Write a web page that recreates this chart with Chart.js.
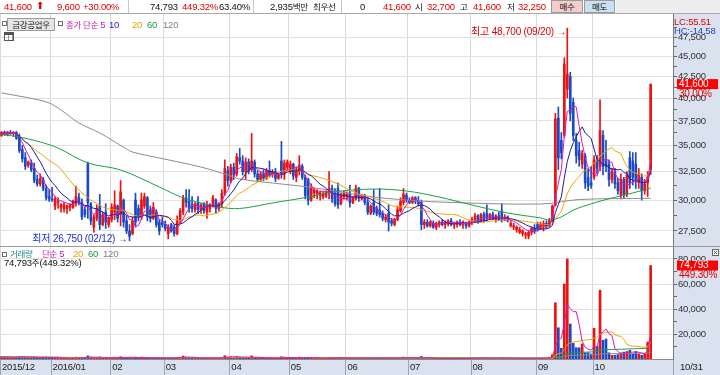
<!DOCTYPE html>
<html lang="ko">
<head>
<meta charset="utf-8">
<title>금강공업우</title>
<script src="https://cdn.jsdelivr.net/npm/chart.js@4.4.1/dist/chart.umd.min.js"></script>
<style>
  html, body { margin:0; padding:0; background:#fff; }
  #wrap { position:relative; width:720px; height:375px; overflow:hidden; font-family:"Liberation Sans","Noto Sans CJK KR",sans-serif; font-size:9.5px; letter-spacing:-0.2px; color:#111; }
  canvas { position:absolute; left:0; }
  #cPrice { top:14px; }
  #cVol { top:246px; }
  #top { position:absolute; left:0; top:0; width:720px; height:13px; border-bottom:1px solid #a9a9a9; background:#fff; }
  .t { position:absolute; white-space:nowrap; line-height:11px; z-index:2; }
  .k { font-family:"Noto Sans CJK KR",sans-serif; font-size:8.5px; letter-spacing:-0.3px; }
  .r { color:#e00000; }
  .sep { position:absolute; top:0; width:1px; height:13px; background:#c8c8c8; }
  .btn { position:absolute; top:0; height:11px; border:1px solid #9a9a9a; text-align:center; line-height:11px; }
  .sq { position:absolute; width:3px; height:3px; border:1px solid #6d6d6d; background:#fff; z-index:2; }
  #tbl { position:absolute; left:4px; top:32px; width:8px; height:7px; border:1px solid #555; z-index:2;
         background:linear-gradient(#555 0 2px, transparent 2px), repeating-linear-gradient(90deg, transparent 0 3px, #999 3px 4px); }
</style>
</head>
<body>
<div id="wrap">
  <div id="top">
    <span class="t r" style="left:4px;top:1px">41,600</span>
    <span class="t r" style="left:36px;top:0px;font-family:'DejaVu Sans';font-size:10px">⬆</span>
    <span class="t r" style="left:57px;top:1px">9,600</span>
    <span class="t r" style="left:83px;top:1px">+30.00%</span>
    <div class="sep" style="left:128px"></div>
    <span class="t" style="left:150px;top:1px">74,793</span>
    <span class="t r" style="left:182px;top:1px">449.32%</span>
    <span class="t" style="left:219px;top:1px">63.40%</span>
    <div class="sep" style="left:253px"></div>
    <span class="t" style="left:270px;top:1px">2,935<span class="k">백만</span></span>
    <span class="t k" style="left:313px;top:1px">최우선</span>
    <div class="sep" style="left:341px"></div>
    <span class="t" style="left:360px;top:1px">0</span>
    <span class="t r" style="left:383px;top:1px">41,600</span>
    <span class="t k" style="left:415px;top:1px">시</span>
    <span class="t r" style="left:427px;top:1px">32,700</span>
    <span class="t k" style="left:460px;top:1px">고</span>
    <span class="t r" style="left:473px;top:1px">41,600</span>
    <span class="t k" style="left:507px;top:1px">저</span>
    <span class="t r" style="left:518px;top:1px">32,250</span>
    <div class="btn k" style="left:551px;width:30px;background:#f5cccc">매수</div>
    <div class="btn k" style="left:584px;width:29px;background:#cddff5">매도</div>
    <div style="position:absolute;left:616px;top:0;width:104px;height:13px;background:#ededed"></div>
  </div>

  <canvas id="cPrice" width="720" height="232"></canvas>
  <canvas id="cVol" width="720" height="129"></canvas>

  <div class="sq" style="left:2px;top:21px"></div>
  <span class="t k" style="left:7px;top:18px;width:46px;height:11px;border:1px solid #9a9a9a;background:#e6e6e6;text-align:center">금강공업우</span>
  <div class="sq" style="left:58px;top:21px"></div>
  <span class="t k" style="left:66px;top:19px;color:#d11ab0">종가 단순 <span style="font-family:'Liberation Sans';font-size:9.5px">5</span></span>
  <span class="t" style="left:109px;top:19px;color:#2424c8">10</span>
  <span class="t" style="left:132px;top:19px;color:#eaa000">20</span>
  <span class="t" style="left:147px;top:19px;color:#139a3c">60</span>
  <span class="t" style="left:163px;top:19px;color:#808080">120</span>
  <div id="tbl"></div>
  <span class="t" style="left:674px;top:16px;color:#e00000">LC:55.51</span>
  <span class="t" style="left:674px;top:25px;color:#2345c0">HC:-14.58</span>

  <div class="sq" style="left:2px;top:252px"></div>
  <span class="t k" style="left:10px;top:248px;color:#17898c">거래량</span>
  <span class="t k" style="left:42px;top:248px;color:#d11ab0">단순 <span style="font-family:'Liberation Sans';font-size:9.5px">5</span></span>
  <span class="t" style="left:73px;top:248px;color:#eaa000">20</span>
  <span class="t" style="left:88px;top:248px;color:#139a3c">60</span>
  <span class="t" style="left:103px;top:248px;color:#808080">120</span>
  <span class="t" style="left:4px;top:257px">74,793<span class="k">주</span>(449.32%)</span>
</div>

<script>
// daily candles [open, high, low, close, volume], one list per month
const dec15 = [
  [36000,36400,35900,36300,1800],[36300,36450,36000,36100,1500],[36100,36400,35950,36350,1600],
  [36300,36500,36100,36200,1200],[36200,36400,35900,36300,1300],[36300,36400,35600,35700,1500],
  [35800,36150,34300,34500,2000],[34600,35000,33400,33700,1800],[33800,34300,32700,33000,1500],
  [33100,33500,32900,33400,900],[33300,33600,32500,32700,1100],[32800,33300,31500,31700,1600],
  [31800,32200,31200,31400,1200],[31400,32300,31200,31900,900],[31800,32000,30800,31000,1300],
  [31000,31300,30000,30200,1500],[30300,30900,29900,30100,1100]
];
const jan16 = [
  [30100,31100,29900,30000,1000],[29500,30300,29200,30100,900],[29800,30200,29300,29900,800],
  [29400,29700,29000,29600,700],[29300,29800,29000,29600,800],[29300,29600,28900,29500,700],
  [29400,29700,29100,29600,600],[29400,30000,29300,29800,700],[29700,31200,29500,30300,1500],
  [30200,30600,29600,29800,900],[29800,30100,28400,28600,1200],[29200,29400,28600,28800,800],
  [33200,33400,28500,29800,2500],[29700,29800,28000,28300,1500],[27800,28800,27400,28600,1200],
  [28500,29600,28300,29300,1000],[29500,30500,27600,28000,1500],[28000,29000,27900,28800,900],
  [29000,29700,27700,28200,1100],[28000,28600,27800,28500,800]
];
const feb16 = [
  [28400,29700,28200,29400,1000],[29000,30800,28400,29600,1400],[29500,29600,28200,28500,900],
  [28800,31700,27900,30700,1800],[30000,30100,27800,28200,1300],[28300,28700,27300,27500,1100],
  [27500,28000,26750,27100,1400],[27300,28600,27200,28300,1000],[30000,30600,27800,28200,1500],
  [29300,29600,28300,28600,900],[28600,30600,28400,30000,1400],[29500,30600,29300,30300,1000],
  [30200,30300,28300,28600,1000],[29200,29500,28200,28500,900],[28500,29800,28400,29400,800],
  [29000,29200,27800,28000,900],[28200,28400,27200,27500,1000],[28200,28600,27800,28000,700]
];
const mar16 = [
  [28000,28300,27500,27700,800],[27300,28000,26900,27800,1000],[28000,28100,27400,27500,700],
  [27800,28000,27100,27300,900],[27300,28700,27200,28300,1100],[28300,29300,28100,29100,1300],
  [29000,30400,28800,30100,2400],[30200,30900,29400,29800,1500],[29900,30900,29000,29300,1200],
  [29600,30300,29000,29300,900],[29200,29800,29000,29700,800],[29800,30300,28900,29200,1000],
  [29200,29700,28900,29600,700],[29700,29800,28900,29100,800],[29000,29900,28500,29600,900],
  [29300,29700,29000,29600,600],[29500,30400,29400,30200,1100],[30000,30100,28900,29300,800],
  [29300,29800,29100,29700,700],[29700,30900,29400,30600,1300],[30600,33600,30400,32800,2600],
  [32600,33000,31200,31700,1500]
];
const apr16 = [
  [31700,33200,31500,32900,1800],[32900,33300,31800,32200,1300],[32300,34200,32100,33900,2000],
  [33800,34700,33200,33500,1500],[33500,34000,32200,32500,1200],[32500,33800,31800,33400,1400],
  [33400,33700,32300,32600,1000],[32700,36200,32500,33500,2500],[33400,33600,32000,32300,1200],
  [32300,32600,31600,31800,900],[31800,32500,31600,32300,800],[32300,32700,31700,31900,700],
  [31900,32800,31800,32600,900],[32600,33500,32000,32200,1100],[32200,32700,32000,32500,600],
  [32500,32800,31600,31900,800],[31900,32400,31800,32200,600],[33500,35400,31900,32300,1800],
  [32300,33600,31800,33300,1500],[32900,33600,32600,33400,1000]
];
const may16 = [
  [32500,33500,32300,33200,1200],[33200,33300,31800,32100,900],[32000,32900,31600,32700,1000],
  [32500,34000,32200,33100,1500],[33000,33200,31800,32000,1000],[32000,32200,30100,30400,1400],
  [31800,31900,29600,30000,1200],[30000,31400,29900,31100,900],[30600,31000,30200,30900,700],
  [30500,30900,30100,30800,700],[30400,30800,30000,30600,600],[30300,30700,30100,30500,500],
  [30400,30800,30200,30700,600],[30600,32500,30100,31000,1300],[31000,31300,29800,30100,900],
  [30500,31000,29500,29700,1000],[31000,31500,29300,29600,1300],[29700,30600,29600,30400,800],
  [30300,30800,30100,30600,600]
];
const jun16 = [
  [30300,30700,30000,30500,700],[30600,31300,29400,29800,1000],[29800,30300,29700,30200,600],
  [30100,31300,30000,31000,1200],[31000,31100,29900,30200,800],[30100,30500,30000,30400,600],
  [30400,30500,29600,29800,700],[29800,30200,28800,29000,900],[28900,29600,28800,29500,700],
  [29800,30900,28800,29000,1100],[29300,29500,28700,28900,800],[29200,31000,28600,28800,1000],
  [28900,29100,28300,28500,800],[28400,28800,28200,28600,600],[28900,29600,27500,28200,1000],
  [28300,28500,27900,28100,700],[28000,28500,27900,28400,700],[28400,29500,28300,29200,1000],
  [29100,30200,29000,29900,1200],[29800,31000,29600,30500,1500],[30400,30600,29800,30000,900]
];
const jul16 = [
  [30000,30200,29700,29800,700],[29800,30300,29700,30200,700],[30200,30300,29700,29900,600],
  [29900,30300,29500,29700,900],[29800,30000,27600,28000,2000],[28000,28400,27700,28200,1000],
  [28200,28400,27800,27900,600],[27900,28300,27800,28200,500],[28100,28300,27700,27800,500],
  [27800,28200,27600,28100,500],[28000,28300,27800,28200,400],[28200,28400,27900,28000,400],
  [28000,28300,27700,28200,500],[28100,28400,27900,28300,400],[28300,28500,27900,28000,400],
  [28000,28200,27700,28100,400],[28000,28300,27800,28200,400],[28200,28400,27900,28000,500],
  [28000,28300,27700,28200,400],[28100,28200,27700,27900,500],[27900,28300,27800,28200,600]
];
const aug16 = [
  [28200,28600,28000,28400,700],[28400,28900,28200,28700,800],[28700,28800,28100,28300,600],
  [28300,28900,28200,28800,700],[28800,29000,28200,28400,600],[28900,29600,28300,28500,1200],
  [28500,28900,28400,28800,500],[28800,29000,28400,28500,500],[28400,28800,28200,28700,600],
  [28700,29000,28300,28400,500],[29100,29700,28200,28400,1300],[28400,28800,28300,28600,500],
  [28600,28700,28200,28300,500],[27900,28300,27800,28100,600],[27800,28100,27600,27900,500],
  [27600,27900,27400,27800,500],[27400,27800,27300,27600,500],[27300,27600,27100,27500,500],
  [27200,27400,26900,27300,600],[27100,27500,26900,27400,500],[27400,27800,27200,27700,500],
  [27700,28000,27300,27500,500]
];
const sep16 = [
  [28000,28200,27500,27700,600],[27700,28200,27600,28000,700],[27900,28300,27500,28100,800],
  [28100,28300,27700,27900,700],[27900,28500,27800,28300,1500],[28300,29600,28200,29500,3500],
  [29600,38300,29500,37700,45000],[37800,39000,32700,33800,25000],[35500,36300,33700,34300,8600],
  [36000,44800,35800,44000,60000],[41000,48700,40000,42800,80000],[42500,43000,37500,38300,28000],
  [39500,40000,35500,36000,12500],[35500,36200,33300,34000,9000],[34500,35300,33000,33600,9000],
  [33200,34500,32800,34200,12000],[34000,34200,31000,31500,5000],[32000,32800,30800,31200,5000],
  [31500,33000,31000,31300,4000]
];
const oct16 = [
  [32000,34000,31800,33600,24600],[33500,34000,32300,32800,10000],[33000,39800,32600,36500,55000],
  [36000,36500,32200,33000,15000],[33500,35500,32500,33000,16000],[33200,33600,31200,31800,5000],
  [31800,32800,31500,32500,3000],[32500,32800,31000,31400,3000],[31500,31900,30500,30800,3500],
  [30400,32300,30100,31800,5000],[31800,32000,30200,30500,5500],[30500,32500,30300,32200,6000],
  [33800,34400,31000,31500,7000],[33500,34300,31300,32000,4000],[33200,34300,31000,31800,6000],
  [31500,32800,31000,32300,4000],[32000,32300,30000,30800,3000],[30800,31800,30500,31400,4000],
  [31500,32500,30300,32000,13616],[32700,41600,32250,41600,74793]
];

const monthLabels = ['2015/12', '2016/01', '02', '03', '04', '05', '06', '07', '08', '09', '10'];
const lastDateLabel = '10/31';
const highDate = '09/20';
const lowDate = '02/12';

// longer averages: [day index, price]
const ma60Pts = [[0,36100],[6,35840],[13,35340],[19,34740],[29,33310],[40,32660],[53,31130],[61,30180],
  [67,29760],[73,29420],[80,29300],[91,29760],[103,30260],[111,30690],[125,30950],[136,30780],[147,30260],
  [158,29590],[170,28930],[181,28530],[184,28370],[188,28610],[192,29170],[199,29760],[205,30180],[212,30610],[218,31040]];
const ma120Pts = [[0,40570],[11,39890],[16,39440],[20,38670],[26,37280],[33,36250],[42,34650],[44,34350],
  [53,33780],[67,32930],[76,32200],[80,31840],[91,31480],[103,31130],[114,30690],[125,30260],[136,30010],
  [147,29840],[181,29670],[194,30050],[218,30150]];

const priceTicks = [27500,28750,30000,31250,32500,33750,35000,36250,37500,38750,40000,41250,42500,43750,45000,46250,47500,48750];
const volTicks = [10000,20000,30000,40000,50000,60000,70000,80000];

const FONT = '"Liberation Sans","Noto Sans CJK KR",sans-serif';
const RED = '#ee1111', BLUE = '#1a4ac8';
const C_MA5 = '#d81ab4', C_MA10 = '#1c1ca8', C_MA20 = '#f0a400', C_MA60 = '#18a048', C_MA120 = '#8c8c8c';
const PANEL = '#d9e2ee';
const SLOTS = 226;

const months = [dec15, jan16, feb16, mar16, apr16, may16, jun16, jul16, aug16, sep16, oct16];
const bars = months.flat();
const monthStart = [];
let acc = 0;
months.forEach(m => { monthStart.push(acc); acc += m.length; });

const closes = bars.map(d => d[3]);
const vols = bars.map(d => d[4]);
const colors = bars.map(d => d[3] >= d[0] ? RED : BLUE);

function sma(arr, n) {
  return arr.map((_, i) => {
    const from = Math.max(0, i - n + 1);
    let s = 0;
    for (let k = from; k <= i; k++) s += arr[k];
    return s / (i - from + 1);
  });
}
const fmt = v => Math.round(v).toLocaleString('en-US');
const pts = arr => arr.map((y, x) => ({ x, y }));

function lineSet(data, color, smooth) {
  return { type: 'line', data, borderColor: color, borderWidth: 1, pointRadius: 0, fill: false,
           tension: smooth ? 0.35 : 0, order: 0 };
}

function xAxis(labels) {
  return {
    type: 'linear', min: -0.5, max: SLOTS - 0.5, offset: false,
    afterBuildTicks: s => { s.ticks = monthStart.map(v => ({ value: v - 0.5 })); },
    grid: { color: '#dadada', drawTicks: false, offset: false },
    border: { display: labels, color: '#8a8a8a' },
    ticks: { display: labels, autoSkip: false, maxRotation: 0, align: 'start', labelOffset: 2, padding: 3,
             color: '#222', font: { size: 9.5, family: FONT }, callback: (v, i) => monthLabels[i] },
    afterFit: s => { s.height = labels ? 16 : 0; s.paddingLeft = 0; s.paddingRight = 0; }
  };
}

const last = bars.length - 1;
const hiIdx = bars.reduce((b, d, i) => d[1] > bars[b][1] ? i : b, 0);
const loIdx = bars.reduce((b, d, i) => d[2] < bars[b][2] ? i : b, 0);

const priceDeco = {
  id: 'priceDeco',
  beforeDraw(c) {
    const { ctx, chartArea: a } = c;
    ctx.save();
    ctx.fillStyle = PANEL;
    ctx.fillRect(a.right, 0, c.width - a.right, c.height);
    ctx.restore();
  },
  afterDraw(c) {
    const { ctx, chartArea: a } = c;
    const xs = c.scales.x, ys = c.scales.y;
    ctx.save();
    ctx.font = '10px ' + FONT;
    ctx.textBaseline = 'middle';
    ctx.textAlign = 'right';
    ctx.fillStyle = '#e00000';
    ctx.fillText('최고 ' + fmt(bars[hiIdx][1]) + ' (' + highDate + ') →', xs.getPixelForValue(hiIdx) - 1, ys.getPixelForValue(bars[hiIdx][1]) + 4);
    ctx.fillStyle = '#1a2fd0';
    ctx.fillText('최저 ' + fmt(bars[loIdx][2]) + ' (' + lowDate + ') →', xs.getPixelForValue(loIdx) - 2, ys.getPixelForValue(bars[loIdx][2]) - 2);

    const py = ys.getPixelForValue(closes[last]);
    const pct = (closes[last] - closes[last - 1]) / closes[last - 1] * 100;
    ctx.textAlign = 'left';
    ctx.fillStyle = '#ff0000';
    ctx.fillRect(a.right + 4, py - 5, c.width - a.right - 6, 10);
    ctx.fillStyle = '#fff';
    ctx.fillText(fmt(closes[last]), a.right + 6, py);
    ctx.fillStyle = '#e00000';
    ctx.fillText(pct.toFixed(2) + '%', a.right + 6, py + 10);
    ctx.restore();
  }
};

new Chart(document.getElementById('cPrice'), {
  type: 'bar',
  data: {
    datasets: [
      lineSet(pts(sma(closes, 5)), C_MA5),
      lineSet(pts(sma(closes, 10)), C_MA10),
      lineSet(pts(sma(closes, 20)), C_MA20),
      lineSet(ma60Pts.map(p => ({ x: p[0], y: p[1] })), C_MA60, true),
      lineSet(ma120Pts.map(p => ({ x: p[0], y: p[1] })), C_MA120, true),
      { type: 'bar', data: bars.map((d, i) => ({ x: i, y: [d[2], d[1]] })), backgroundColor: colors,
        grouped: false, barPercentage: 1, categoryPercentage: 1, maxBarThickness: 1, order: 2 },
      { type: 'bar', data: bars.map((d, i) => ({ x: i, y: [Math.min(d[0], d[3]), Math.max(d[0], d[3])] })), backgroundColor: colors,
        grouped: false, barPercentage: 1, categoryPercentage: 1, maxBarThickness: 2, minBarLength: 1, order: 1 }
    ]
  },
  options: {
    responsive: false, animation: false, devicePixelRatio: 1, events: [],
    layout: { padding: 0 },
    plugins: { legend: { display: false }, tooltip: { enabled: false } },
    scales: {
      x: xAxis(false),
      y: {
        type: 'logarithmic', position: 'right', min: 26362, max: 50680,
        afterBuildTicks: s => { s.ticks = priceTicks.map(v => ({ value: v })); },
        grid: { color: ctx => ctx.tick && ctx.tick.value % 2500 === 0 ? '#e2e2e2' : 'rgba(0,0,0,0)', tickColor: '#666', tickLength: 4 },
        border: { color: '#7a7a7a' },
        ticks: { autoSkip: false, padding: 1, color: '#333', font: { size: 9.5, family: FONT },
                 callback: v => v % 2500 === 0 ? fmt(v) : '' },
        afterFit: s => { s.width = 47; s.paddingTop = 0; s.paddingBottom = 0; }
      }
    }
  },
  plugins: [priceDeco]
});

const volDeco = {
  id: 'volDeco',
  beforeDraw(c) {
    const { ctx, chartArea: a } = c;
    const xs = c.scales.x;
    ctx.save();
    ctx.fillStyle = PANEL;
    ctx.fillRect(a.right, 0, c.width - a.right, c.height);
    ctx.fillRect(0, a.bottom, c.width, c.height - a.bottom);
    ctx.strokeStyle = '#9aa4b4';
    ctx.lineWidth = 1;
    ctx.beginPath();
    monthStart.forEach(m => {
      const x = Math.round(xs.getPixelForValue(m - 0.5)) + 0.5;
      ctx.moveTo(x, a.bottom); ctx.lineTo(x, c.height);
    });
    ctx.moveTo(a.right + 0.5, a.bottom); ctx.lineTo(a.right + 0.5, c.height);
    ctx.stroke();
    ctx.strokeStyle = '#9a9a9a';
    ctx.beginPath(); ctx.moveTo(0, 0.5); ctx.lineTo(c.width, 0.5); ctx.stroke();
    ctx.restore();
  },
  afterDraw(c) {
    const { ctx, chartArea: a } = c;
    const ys = c.scales.y;
    ctx.save();
    ctx.font = '9.5px ' + FONT;
    ctx.textBaseline = 'middle';
    ctx.fillStyle = '#222';
    ctx.fillText(lastDateLabel, a.right + 7, a.bottom + 8);
    const vy = ys.getPixelForValue(vols[last]);
    const ratio = vols[last] / vols[last - 1] * 100 - 100;
    ctx.font = '10px ' + FONT;
    ctx.fillStyle = '#ff0000';
    ctx.fillRect(a.right + 4, vy - 5, c.width - a.right - 6, 10);
    ctx.fillStyle = '#fff';
    ctx.fillText(fmt(vols[last]), a.right + 6, vy);
    ctx.fillStyle = '#e00000';
    ctx.fillText(ratio.toFixed(2) + '%', a.right + 6, vy + 10);
    // small close box
    ctx.fillStyle = '#f4f4f4';
    ctx.strokeStyle = '#666';
    ctx.fillRect(c.width - 7.5, 3.5, 6, 6);
    ctx.strokeRect(c.width - 7.5, 3.5, 6, 6);
    ctx.beginPath();
    ctx.moveTo(c.width - 6, 5); ctx.lineTo(c.width - 3, 8);
    ctx.moveTo(c.width - 3, 5); ctx.lineTo(c.width - 6, 8);
    ctx.stroke();
    ctx.restore();
  }
};

new Chart(document.getElementById('cVol'), {
  type: 'bar',
  data: {
    datasets: [
      lineSet(pts(sma(vols, 5)), C_MA5),
      lineSet(pts(sma(vols, 20)), C_MA20),
      lineSet(pts(sma(vols, 60)), C_MA60),
      lineSet(pts(sma(vols, 120)), C_MA120),
      { type: 'bar', data: pts(vols), backgroundColor: colors, barPercentage: 1, categoryPercentage: 1,
        maxBarThickness: 2, order: 1 }
    ]
  },
  options: {
    responsive: false, animation: false, devicePixelRatio: 1, events: [],
    layout: { padding: { top: 1 } },
    plugins: { legend: { display: false }, tooltip: { enabled: false } },
    scales: {
      x: xAxis(true),
      y: {
        position: 'right', min: 0, max: 89600,
        afterBuildTicks: s => { s.ticks = volTicks.map(v => ({ value: v })); },
        grid: { color: ctx => ctx.tick && ctx.tick.value % 20000 === 0 ? '#e2e2e2' : 'rgba(0,0,0,0)', tickColor: '#666', tickLength: 4 },
        border: { color: '#7a7a7a' },
        ticks: { autoSkip: false, padding: 1, color: '#333', font: { size: 9.5, family: FONT },
                 callback: v => v % 20000 === 0 ? fmt(v) : '' },
        afterFit: s => { s.width = 47; s.paddingTop = 0; s.paddingBottom = 0; }
      }
    }
  },
  plugins: [volDeco]
});
</script>
</body>
</html>
